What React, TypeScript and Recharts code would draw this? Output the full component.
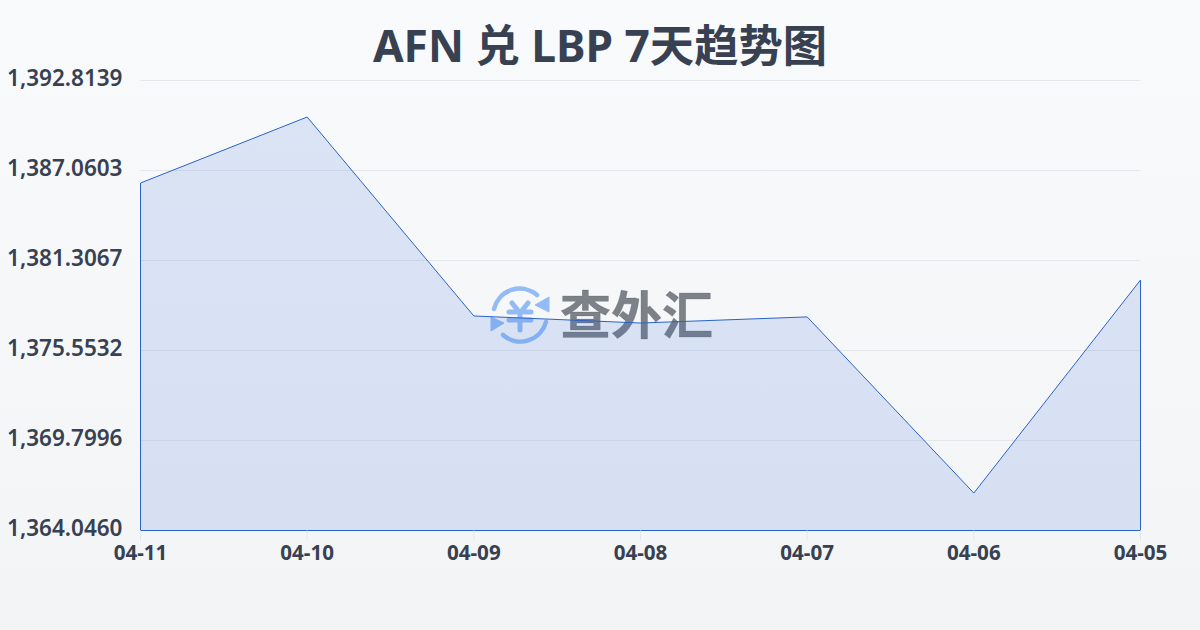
import React from "react";
import { ComposedChart, Area, XAxis, YAxis, CartesianGrid, ReferenceLine, Customized } from "recharts";

const dates = ["04-11", "04-10", "04-09", "04-08", "04-07", "04-06", "04-05"];
const rates = [1386.26, 1390.48, 1377.76, 1377.31, 1377.7, 1366.44, 1380.06];
const yTicks = [1364.046, 1369.7996, 1375.5532, 1381.3067, 1387.0603, 1392.8139];
const title = "AFN 兑 LBP 7天趋势图";
const brand = "查外汇";

const rows = dates.map((date, i) => ({ date, rate: rates[i] }));
const yMin = yTicks[0];
const yMax = yTicks[yTicks.length - 1];
const FONT = '"Noto Sans", "Noto Sans CJK SC", sans-serif';
const BLUE = "#2b62c9";
const ICON = "#93bbf5";
const fmt = (v: number) => v.toLocaleString("en-US", { minimumFractionDigits: 4, maximumFractionDigits: 4 });

function Watermark() {
  return (
    <g>
      <g fill="none" stroke={ICON} strokeWidth={4.5} strokeLinecap="round">
        <path d="M 494 309 A 26.5 26.5 0 0 1 537 295" />
        <path d="M 546 322 A 26.5 26.5 0 0 1 503 335" />
        <path d="M 512 303 L 520 313 L 528 303 M 509 312 H 531 M 509 320 H 531 M 520 313 V 330" strokeWidth={5} />
      </g>
      <path d="M 549 297 V 312 L 535 305 Z" fill={ICON} stroke={ICON} strokeWidth={1} />
      <path d="M 491 317 V 331 L 504 323 Z" fill={ICON} stroke={ICON} strokeWidth={1} />
      <text x={560} y={334} fontFamily='"Noto Sans CJK SC"' fontWeight={700} fontSize={51} fill="#4a4f58" fillOpacity={0.7} stroke="#4a4f58" strokeOpacity={0.4} strokeWidth={0.6}>
        {brand}
      </text>
    </g>
  );
}

export default function App() {
  return (
    <div style={{ position: "absolute", left: 0, top: 0, width: 1200, height: 630, overflow: "hidden", background: "linear-gradient(180deg, #f9fafc 0%, #f3f4f6 100%)" }}>
      <div style={{ position: "absolute", left: 0, top: 15, width: 1200, textAlign: "center", fontFamily: FONT, fontWeight: 700, fontSize: 44.3, lineHeight: "60px", color: "#374151" }}>
        {title}
      </div>
      <div style={{ position: "absolute", left: 0, top: 0 }}>
        <ComposedChart width={1200} height={630} data={rows} margin={{ top: 80.5, right: 59.5, bottom: 39.5, left: 0 }}>
          <CartesianGrid horizontal vertical={false} stroke="#e5e7eb" strokeWidth={1} />
          <XAxis
            dataKey="date"
            scale="point"
            padding={{ left: 0, right: 0 }}
            interval={0}
            height={60}
            axisLine={false}
            tickLine={{ stroke: "#e5e7eb" }}
            tickSize={10}
            tickMargin={5}
            tick={{ fontFamily: FONT, fontSize: 20.6, fontWeight: 700, fill: "#374151" }}
          />
          <YAxis
            width={140.5}
            domain={[yMin, yMax]}
            ticks={yTicks}
            tickFormatter={fmt}
            axisLine={false}
            tickLine={false}
            tickMargin={12}
            interval={0}
            tick={{ fontFamily: FONT, fontSize: 22.5, fontWeight: 600, fill: "#374151", dy: -2 }}
          />
          <Area dataKey="rate" type="linear" stroke="none" fill="#2d69d8" fillOpacity={0.15} baseValue={yMin} isAnimationActive={false} dot={false} activeDot={false} />
          <Customized component={Watermark} />
          <Area dataKey="rate" type="linear" stroke={BLUE} strokeWidth={1} fill="none" baseValue={yMin} isAnimationActive={false} dot={false} activeDot={false} />
          <ReferenceLine segment={[{ x: dates[0], y: yMin }, { x: dates[0], y: rates[0] }]} stroke={BLUE} strokeWidth={1} />
          <ReferenceLine segment={[{ x: dates[6], y: yMin }, { x: dates[6], y: rates[6] }]} stroke={BLUE} strokeWidth={1} />
          <ReferenceLine segment={[{ x: dates[0], y: yMin }, { x: dates[6], y: yMin }]} stroke={BLUE} strokeWidth={1} />
        </ComposedChart>
      </div>
    </div>
  );
}
